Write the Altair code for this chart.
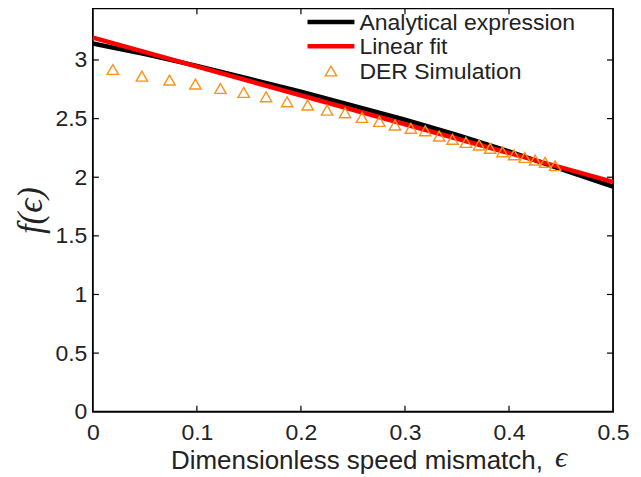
import altair as alt
import pandas as pd

# ---- data ----
eps_line = [0.0, 0.05, 0.10, 0.15, 0.20, 0.25, 0.30, 0.35, 0.40, 0.45, 0.50]
f_analytical = [3.14, 3.05, 2.95, 2.84, 2.73, 2.61, 2.49, 2.36, 2.22, 2.07, 1.92]

eps_fit = [0.0, 0.5]
f_fit = [3.19, 1.96]

eps_sim = [0.0192, 0.0471, 0.0737, 0.0986, 0.1226, 0.1450, 0.1665, 0.1867, 0.2065,
           0.2251, 0.2424, 0.2587, 0.2753, 0.2904, 0.3057, 0.3195, 0.3329, 0.3457,
           0.3586, 0.3713, 0.3819, 0.3937, 0.4049, 0.4152, 0.4251, 0.4347, 0.4443]
f_sim = [2.919, 2.862, 2.828, 2.794, 2.757, 2.723, 2.686, 2.643, 2.615,
         2.572, 2.549, 2.510, 2.476, 2.445, 2.417, 2.396, 2.351, 2.323,
         2.297, 2.274, 2.246, 2.217, 2.191, 2.169, 2.146, 2.127, 2.098]

x_ticks = [0, 0.1, 0.2, 0.3, 0.4, 0.5]
y_ticks = [0, 0.5, 1, 1.5, 2, 2.5, 3]
legend_labels = ["Analytical expression", "Linear fit", "DER Simulation"]

W, H = 521, 404
ORANGE = "#F7941D"
TXT = "#222222"

xs = alt.Scale(domain=[0, 0.5], nice=False, zero=False)
ys = alt.Scale(domain=[0, 3.44], nice=False, zero=False)

df_a = pd.DataFrame({"eps": eps_line, "f": f_analytical})
df_fit = pd.DataFrame({"eps": eps_fit, "f": f_fit})
df_sim = pd.DataFrame({"eps": eps_sim, "f": f_sim})

x_axis = alt.Axis(values=x_ticks, format=".1~f", title="Dimensionless speed mismatch,",
                  titleFont="Liberation Sans", titleFontSize=26, titleFontWeight="normal",
                  titleColor=TXT, titleX=264, titleY=57, titleBaseline="alphabetic",
                  titleAlign="center",
                  labelFont="Liberation Sans", labelFontSize=23, labelColor=TXT,
                  labelPadding=10, labelFlush=False, ticks=False, domain=False, grid=False)
y_axis = alt.Axis(values=y_ticks, format=".1~f", title="f(ϵ)",
                  titleFont="Liberation Serif", titleFontStyle="italic", titleFontSize=35,
                  titleFontWeight="normal", titleColor=TXT, titleX=-62, titleY=H / 2,
                  titleAlign="center", titleBaseline="middle", titleAngle=270,
                  labelFont="Liberation Sans", labelFontSize=23, labelColor=TXT,
                  labelPadding=6, labelFlush=False, ticks=False, domain=False, grid=False)

analytical = alt.Chart(df_a).mark_line(color="black", strokeWidth=4.5).encode(
    x=alt.X("eps:Q", scale=xs, axis=x_axis),
    y=alt.Y("f:Q", scale=ys, axis=y_axis),
)
fit = alt.Chart(df_fit).mark_line(color="#FF0000", strokeWidth=4.5).encode(
    x=alt.X("eps:Q", scale=xs), y=alt.Y("f:Q", scale=ys)
)
sim = alt.Chart(df_sim).mark_point(shape="triangle-up", filled=False, color=ORANGE,
                                   size=130, strokeWidth=1.4, opacity=1).encode(
    x=alt.X("eps:Q", scale=xs), y=alt.Y("f:Q", scale=ys)
)

# inward ticks on all four sides
dfx = pd.DataFrame({"t": x_ticks[1:-1]})
dfy = pd.DataFrame({"t": y_ticks[1:]})
tick_b = alt.Chart(dfx).mark_rule(color="black", strokeWidth=1.2).encode(
    x=alt.X("t:Q", scale=xs), y=alt.value(H), y2=alt.value(H - 6))
tick_t = alt.Chart(dfx).mark_rule(color="black", strokeWidth=1.2).encode(
    x=alt.X("t:Q", scale=xs), y=alt.value(0), y2=alt.value(6))
tick_l = alt.Chart(dfy).mark_rule(color="black", strokeWidth=1.2).encode(
    y=alt.Y("t:Q", scale=ys), x=alt.value(0), x2=alt.value(6))
tick_r = alt.Chart(dfy).mark_rule(color="black", strokeWidth=1.2).encode(
    y=alt.Y("t:Q", scale=ys), x=alt.value(W), x2=alt.value(W - 6))

one = pd.DataFrame({"k": [0]})

# epsilon of the x title (math serif)
eps_txt = alt.Chart(one).mark_text(
    text="ϵ", font="Liberation Serif", fontSize=30, fontStyle="italic", color=TXT,
    align="center", baseline="alphabetic").encode(
    x=alt.value(469), y=alt.value(H + 55))

# manual legend
leg_rows = [13.7, 38.0, 62.7]
leg_black = alt.Chart(one).mark_rule(color="black", strokeWidth=4.5).encode(
    x=alt.value(215), x2=alt.value(262), y=alt.value(leg_rows[0]))
leg_red = alt.Chart(one).mark_rule(color="#FF0000", strokeWidth=4.5).encode(
    x=alt.value(215), x2=alt.value(262), y=alt.value(leg_rows[1]))
leg_tri = alt.Chart(one).mark_point(shape="triangle-up", filled=False, color=ORANGE,
                                    size=130, strokeWidth=1.4, opacity=1).encode(
    x=alt.value(238.5), y=alt.value(leg_rows[2]))
leg_texts = [
    alt.Chart(one).mark_text(text=lab, font="Liberation Sans", fontSize=23, color=TXT,
                             align="left", baseline="middle").encode(
        x=alt.value(267), y=alt.value(yy + 1))
    for lab, yy in zip(legend_labels, leg_rows)
]

chart = alt.layer(
    analytical, fit, sim, tick_b, tick_t, tick_l, tick_r,
    eps_txt, leg_black, leg_red, leg_tri, *leg_texts
).properties(
    width=W, height=H,
    padding={"left": 85, "top": 0, "right": 20, "bottom": 65},
    autosize=alt.AutoSizeParams(type="none"),
).configure(background="white").configure_view(stroke="black", strokeWidth=1.8)

chart.save("out.html", embed_options={"renderer": "svg", "actions": False})
